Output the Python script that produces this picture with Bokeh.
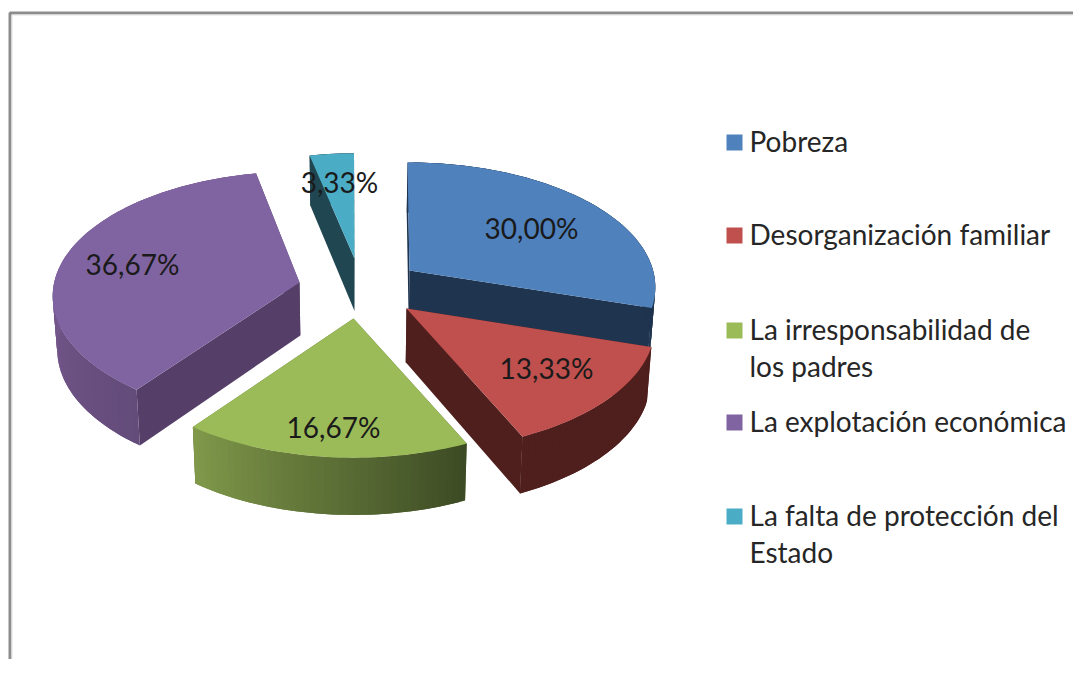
import math
from bokeh.plotting import figure
from bokeh.embed import file_html
from bokeh.resources import INLINE
from bokeh.core.properties import value as fixed

# ---- data ----
categories = ["Pobreza", "Desorganización familiar", "La irresponsabilidad de los padres",
              "La explotación económica", "La falta de protección del Estado"]
shares = [30.00, 13.33, 16.67, 36.67, 3.33]
share_labels = ["30,00%", "13,33%", "16,67%", "36,67%", "3,33%"]

# ---- styles and layout (picture pixel coordinates) ----
W, H = 1073, 659
top_colors = ["#4f81bd", "#c0504d", "#9bbb59", "#8064a2", "#4bacc6"]
radial_colors = ["#1f344f", "#4f1f1d", "#5c7036", "#553f68", "#1f4651"]
arc_start = ["#1f344f", "#4f1f1d", "#3c4a24", "#634b7a", "#1f4651"]
arc_end = ["#1f344f", "#4f1f1d", "#80994a", "#78598f", "#1f4651"]
arc_span = [1.0, 1.0, 1.0, 0.45, 1.0]      # part of the arc over which the shade runs
apex = [(409, 270), (406, 308), (353, 318), (299, 282), (354, 258)]
rim_center = [(407, 268), (406.5, 307), (353, 316.5), (300, 277), (353.5, 259)]
rim_scale = [1.0, 1.0, 0.98, 1.0, 1.0]
draw_order = [4, 0, 3, 1, 2]
label_pos = [(531, 227), (546, 367), (333, 426), (132, 263), (339, 181)]
legend_rows = [[(142, "Pobreza")],
               [(235, "Desorganización familiar")],
               [(330, "La irresponsabilidad de"), (367, "los padres")],
               [(422, "La explotación económica")],
               [(516, "La falta de protección del"), (553, "Estado")]]
FONT = "Lato"
FS = "28px"
R, RY, PERSP = 245.0, 122.0, 0.15
XC = 355.0
TEXT_X, TEXT_DY = 749, -2


def disc(theta):
    a = math.radians(theta)
    u, v = math.sin(a), -math.cos(a)
    den = 1 - PERSP * v
    return R * u / den, RY * v / den


def lower(x, y):
    return XC + (x - XC) * 0.985, y + 50 + 0.024 * (y - 155)


def mix(c0, c1, t):
    t = max(0.0, min(1.0, t))
    a = [int(c0[i:i + 2], 16) for i in (1, 3, 5)]
    b = [int(c1[i:i + 2], 16) for i in (1, 3, 5)]
    return "#%02x%02x%02x" % tuple(round(p + (q - p) * t) for p, q in zip(a, b))


p = figure(width=W, height=H, x_range=(0, W), y_range=(H, 0),
           output_backend="svg", toolbar_location=None, min_border=0,
           outline_line_color=None, background_fill_color="white",
           border_fill_color="white")
p.xaxis.visible = False
p.yaxis.visible = False
p.grid.visible = False

# frame
p.multi_line(xs=[[9.5, 9.5, W], [11.5, 11.5, W]], ys=[[H, 12.5, 12.5], [H, 14.5, 14.5]],
             line_color=["#8c8c8c", "#e2e2e2"], line_width=[3, 1])

# pie
cum = [0.0]
for s in shares:
    cum.append(cum[-1] + s)
total = cum[-1]
xs, ys, fills = [], [], []
for i in draw_order:
    t0, t1 = cum[i] / total * 360, cum[i + 1] / total * 360
    ax, ay = apex[i]
    cx, cy = rim_center[i]
    sc = rim_scale[i]
    n = max(2, int((t1 - t0) / 1.5))
    thetas = [t0 + (t1 - t0) * k / n for k in range(n + 1)]
    rim = [(cx + sc * disc(t)[0], cy + sc * disc(t)[1]) for t in thetas]
    # radial walls
    for q in (rim[0], rim[-1]):
        pts = [(ax, ay), q, lower(*q), lower(ax, ay)]
        xs.append([a for a, _ in pts]); ys.append([b for _, b in pts])
        fills.append(radial_colors[i])
    # outer wall: overlapping strips, painted in turn, so that no seams show
    for k in range(n):
        e = min(k + 2, n)
        pts = rim[k:e + 1] + [lower(*q) for q in reversed(rim[k:e + 1])]
        xs.append([a for a, _ in pts]); ys.append([b for _, b in pts])
        fills.append(mix(arc_start[i], arc_end[i], (k + 0.5) / n / arc_span[i]))
    # top face
    xs.append([ax] + [a for a, _ in rim]); ys.append([ay] + [b for _, b in rim])
    fills.append(top_colors[i])
p.patches(xs, ys, fill_color=fills, line_color=None)

# value labels
p.text(x=[q[0] for q in label_pos], y=[q[1] for q in label_pos], text=share_labels,
       text_font=fixed(FONT), text_font_size=FS, text_color="#1a1a1a",
       text_align="center", text_baseline="middle")

# legend
p.scatter(x=[734] * len(categories), y=[row[0][0] for row in legend_rows], size=16,
          marker="square", fill_color=top_colors, line_color=None)
tx, ty, tt = [], [], []
for row in legend_rows:
    for y, line in row:
        tx.append(TEXT_X); ty.append(y + TEXT_DY); tt.append(line)
p.text(x=tx, y=ty, text=tt, text_font=fixed(FONT), text_font_size=FS, text_color="#262626",
       text_align="left", text_baseline="middle")

open("out.html", "w").write(file_html(p, INLINE))
